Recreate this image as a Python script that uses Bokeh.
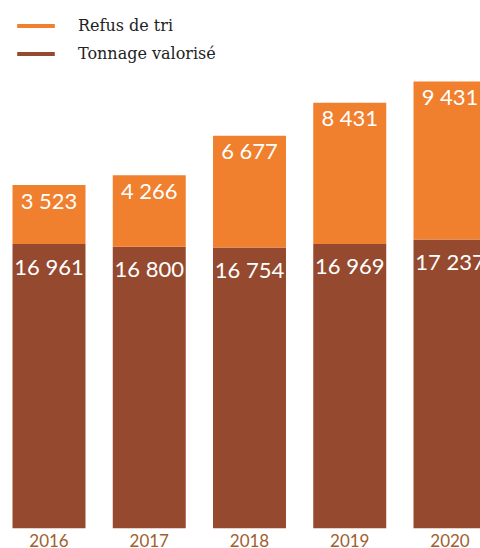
from bokeh.plotting import figure
from bokeh.models import ColumnDataSource, Legend, LegendItem, Range1d
from bokeh.core.properties import value
from bokeh.embed import file_html
from bokeh.resources import INLINE

years = ["2016", "2017", "2018", "2019", "2020"]
valorise = [16961, 16800, 16754, 16969, 17237]
refus = [3523, 4266, 6677, 8431, 9431]

ORANGE = "#F07F2E"
BROWN = "#954A2F"
YEAR_COLOR = "#A0602E"

def fmt(v):
    return f"{v:,}".replace(",", " ")

xs = list(range(len(years)))
totals = [a + b for a, b in zip(valorise, refus)]
src = ColumnDataSource(dict(
    x=xs, year=years, valorise=valorise, refus=refus, total=totals,
    lab_v=[fmt(v) for v in valorise], lab_r=[fmt(v) for v in refus],
    zero=[0] * len(xs),
))

W, H = 480, 548
PITCH = 100.25          # px per category
SCALE = 0.01675         # px per tonne
x0 = -(48.5 / PITCH)
y0 = -((H - 527.7) / SCALE)

p = figure(width=W, height=H, output_backend="svg", toolbar_location=None,
           x_axis_type=None, y_axis_type=None, min_border=0,
           x_range=Range1d(x0, x0 + W / PITCH), y_range=Range1d(y0, y0 + H / SCALE))
p.outline_line_color = None
p.grid.visible = False
p.background_fill_color = "white"
p.border_fill_color = "white"

rv = p.vbar(x="x", width=0.728, bottom=0, top="valorise", source=src,
            fill_color=BROWN, line_color=None)
rr = p.vbar(x="x", width=0.728, bottom="valorise", top="total", source=src,
            fill_color=ORANGE, line_color=None)

p.text(x="x", y="total", text="lab_r", source=src, text_color="white",
       text_font=value("Lato"), text_font_size="22px", text_align="center",
       text_baseline="alphabetic", y_offset=15)
p.text(x="x", y="valorise", text="lab_v", source=src, text_color="white",
       text_font=value("Lato"), text_font_size="22px", text_align="center",
       text_baseline="alphabetic", y_offset=22)
p.text(x="x", y="zero", text="year", source=src, text_color=YEAR_COLOR,
       text_font=value("Lato"), text_font_size="17px", text_align="center",
       text_baseline="alphabetic", y_offset=12)

legend = Legend(items=[LegendItem(label="Refus de tri", renderers=[rr]),
                       LegendItem(label="Tonnage valorisé", renderers=[rv])],
                location="top_left", margin=12, padding=0, spacing=2,
                glyph_width=47, glyph_height=5, label_height=26, label_standoff=19,
                label_text_font="DejaVu Serif", label_text_font_size="16px",
                label_text_color="#222222", border_line_color=None,
                background_fill_alpha=0)
p.add_layout(legend)

open("out.html", "w").write(file_html(p, INLINE))
